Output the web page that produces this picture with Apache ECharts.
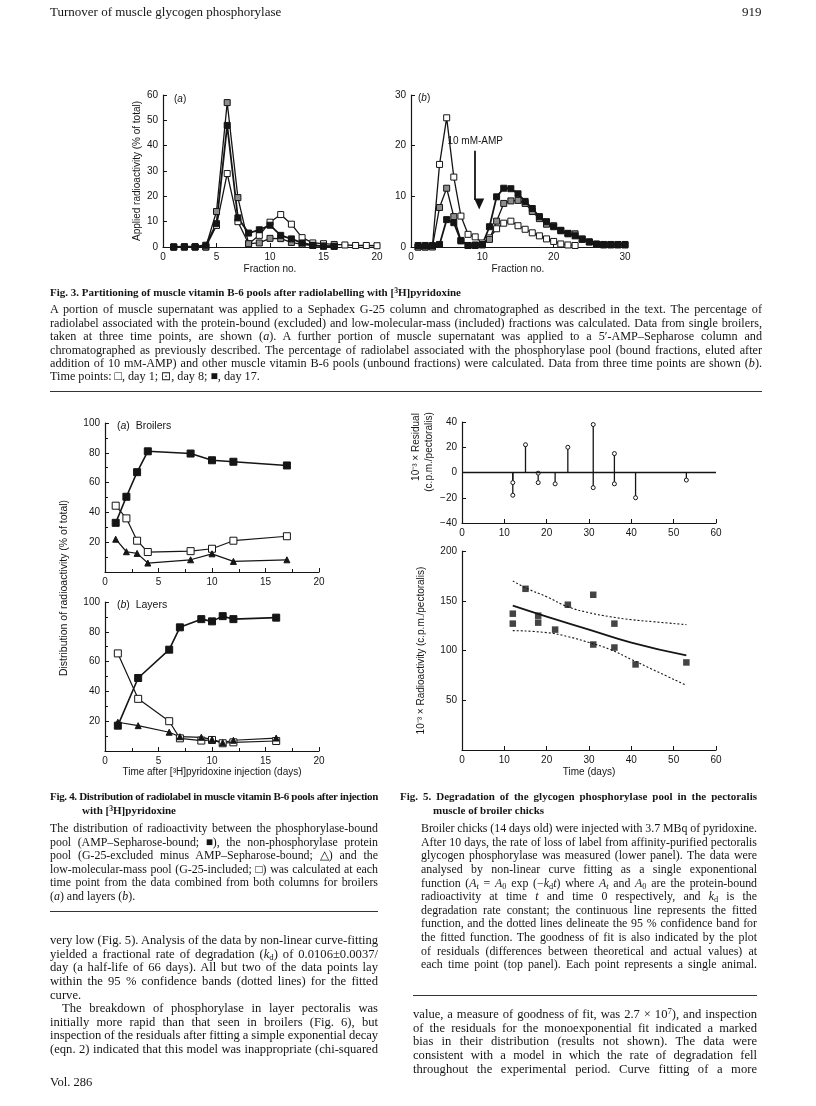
<!DOCTYPE html>
<html><head><meta charset="utf-8">
<script src="https://cdn.jsdelivr.net/npm/echarts@6/dist/echarts.min.js"></script>
<style>
body{margin:0;background:#fff;}
#page{position:relative;width:816px;height:1106px;overflow:hidden;background:#fff;}
#chart{position:absolute;left:0;top:0;width:816px;height:1106px;}
.t{position:absolute;font-family:"Liberation Serif","Times New Roman",serif;color:#151515;white-space:nowrap;}
.t sub{font-size:0.7em;vertical-align:-0.25em;line-height:0;}
.t sup{font-size:0.7em;vertical-align:0.45em;line-height:0;}
.rule{position:absolute;height:0;border-top:1px solid #333;}
</style></head>
<body><div id="page"><div id="chart"></div></div>
<script>
// ---------------- DATA ----------------
// Fig. 3(a): Sephadex G-25, % of applied radioactivity per fraction
const frac3a   = [1,2,3,4,5,6,7,8,9,10,11,12,13,14,15,16,17,18,19,20];
const day1_3a  = [0,0,0,0,8.5,29,10,1.3,4.6,9.8,12.8,9,3.7,1.6,1.3,1.0,0.8,0.6,0.6,0.5];
const day8_3a  = [0,0,0,0,14,57,19.5,1.3,1.6,3.4,3.3,1.8,1.0,0.6,0.4,0.3];
const day17_3a = [0,0.1,0.1,0.7,9.2,48,11.5,5.5,6.8,8.6,4.6,3.2,1.6,0.7,0.3,0.3];
// Fig. 3(b): 5'-AMP-Sepharose
const frac3b   = [1,2,3,4,5,6,7,8,9,10,11,12,13,14,15,16,17,18,19,20,21,22,23,24,25,26,27,28,29,30];
const day1_3b  = [0,0,0.1,16.3,25.5,13.8,6.1,2.5,2.0,0.8,1.8,3.6,4.7,5.1,4.2,3.5,2.8,2.2,1.6,1.1,0.6,0.4,0.3];
const day8_3b  = [0,0,0,7.8,11.6,6.0,1.3,0.3,0.3,0.4,1.5,5.1,8.6,9.1,9.2,8.6,7.0,5.6,4.5,4.2,3.2,2.6,2.6,1.6,1.0,0.5,0.4,0.4,0.4,0.4];
const day17_3b = [0.3,0.3,0.3,0.5,5.4,4.8,1.2,0.3,0.4,0.5,4.0,9.9,11.6,11.5,10.5,9.0,7.6,6.0,5.0,4.0,3.3,2.7,2.2,1.5,1.0,0.6,0.5,0.5,0.5,0.5];
const ampArrow = {x:9, top:19, tip:9.3, label:'10 mM-AMP'};
// Fig. 4(a) broilers
const days4a    = [1,2,3,4,8,10,12,17];
const bound4a   = [33,50.5,67,81,79.5,75,74,71.5];
const protein4a = [22,13.6,12.5,6,8.2,12.2,7.1,8.2];
const lowmm4a   = [44.5,36,21,13.4,14,15.6,21,24];
// Fig. 4(b) layers
const days4b    = [1.2,3.1,6,7,9,10,11,12,16];
const bound4b   = [17,49,68,83,88.5,87,90.5,88.5,89.5];
const protein4b = [19.3,17,12.6,9.6,9.2,7.8,5.6,7.2,8.7];
const lowmm4b   = [65.5,35,20,8.5,7,7.4,5.2,5.8,6.7];
// Fig. 5 residuals (top) and observations (bottom)
const obsDays  = [12,12,15,18,18,22,25,31,31,36,36,41,53];
const resVals  = [-8,-18,22,-0.5,-8,-9,20,38,-12,15,-9,-20,-6];
const obsVals  = [137,127,162,135,128,121,146,156,106,127,103,86,88];
const fitDays  = [12,20,30,40,53];
const fitVals  = [145,134,121,108,95];
const upDays   = [12,15,20,25,30,35,40,45,53];
const upVals   = [170,163,154,144,138,134,131,129,126];
const loDays   = [12,20,25,30,35,40,45,53];
const loVals   = [120,118,114,108,101,91,81,65];
// tick labels
const ticks3a = {x:[0,20,5], y:[0,60,10]};
const ticks3b = {x:[0,30,10], y:[0,30,10]};
const ticks4  = {x:[0,20,5], y:[0,100,20]};
const ticks5t = {x:[0,60,10], y:[-40,40,20]};
const ticks5b = {x:[0,60,10], y:[0,200,50]};

// ---------------- CHART ----------------
const zip = (xs, ys) => ys.map((y,i)=>[xs[i], y]);
const INK = '#151515';
const SANS = '"Liberation Sans", Arial, sans-serif';
const LBL = {color:INK, fontSize:10, fontFamily:SANS};

function axis(gi, t, o = {}) {
  const a = {
    type:'value', gridIndex:gi, min:t[0], max:t[1], interval:t[2],
    axisLine:{show:true, onZero:false, lineStyle:{color:INK, width:1.2}},
    axisTick:{show:true, inside:true, length:4, lineStyle:{color:INK, width:1}},
    axisLabel:Object.assign({margin:5}, LBL, o.label || {}),
    splitLine:{show:false},
    nameTextStyle:{color:INK, fontSize:10, fontFamily:SANS}
  };
  if (o.minor) a.minorTick = {show:true, splitNumber:2, length:3, lineStyle:{color:INK, width:1}};
  ['name','nameLocation','nameGap'].forEach(k => { if (o[k] !== undefined) a[k] = o[k]; });
  return a;
}
const hide0 = v => (v === 0 ? '' : v);
const minus = v => (v < 0 ? '\u2212' + Math.abs(v) : String(v));

const OPEN = {color:'#fff', borderColor:INK, borderWidth:1};
const DOT  = {color:'#8d8d8d', borderColor:INK, borderWidth:1};
const FILL = {color:INK, borderColor:INK, borderWidth:1};
function lineS(xi, data, item, sym, size, w, extra) {
  return Object.assign({
    type:'line', xAxisIndex:xi, yAxisIndex:xi, data, symbol:sym, symbolSize:size,
    showAllSymbol:true, itemStyle:item, lineStyle:{color:INK, width:w}, silent:true, z:3
  }, extra || {});
}

const option = {
  animation:false,
  grid:[
    {left:163, top:95,  width:214, height:152},
    {left:411, top:95,  width:214, height:152},
    {left:105, top:423, width:214, height:149},
    {left:105, top:602, width:214, height:149},
    {left:462, top:422, width:254, height:101},
    {left:462, top:551, width:254, height:199}
  ],
  xAxis:[
    axis(0, ticks3a.x, {name:'Fraction no.', nameLocation:'middle', nameGap:17}),
    axis(1, ticks3b.x, {name:'Fraction no.', nameLocation:'middle', nameGap:17}),
    axis(2, ticks4.x, {minor:true}),
    axis(3, ticks4.x, {minor:true, name:'Time after [\u00b3H]pyridoxine injection (days)', nameLocation:'middle', nameGap:16}),
    axis(4, ticks5t.x),
    axis(5, ticks5b.x, {name:'Time (days)', nameLocation:'middle', nameGap:17})
  ],
  yAxis:[
    axis(0, ticks3a.y, {name:'Applied radioactivity (% of total)', nameLocation:'middle', nameGap:21}),
    axis(1, ticks3b.y),
    axis(2, ticks4.y, {minor:true, label:{formatter:hide0}}),
    axis(3, ticks4.y, {minor:true, label:{formatter:hide0}}),
    axis(4, ticks5t.y, {label:{formatter:minus}}),
    axis(5, ticks5b.y, {label:{formatter:hide0}, name:'10\u207b\u00b3 \u00d7 Radioactivity (c.p.m./pectoralis)', nameLocation:'middle', nameGap:36})
  ],
  graphic:[
    {type:'text', left:174, top:94, style:{text:'({i|a})', fill:INK, font:'10px '+SANS, rich:{i:{fontStyle:'italic', fontSize:10, fontFamily:SANS, fill:INK}}}},
    {type:'text', left:418, top:93, style:{text:'({i|b})', fill:INK, font:'10px '+SANS, rich:{i:{fontStyle:'italic', fontSize:10, fontFamily:SANS, fill:INK}}}},
    {type:'text', left:117, top:421, style:{text:'({i|a})  Broilers', fill:INK, font:'10.5px '+SANS, rich:{i:{fontStyle:'italic', fontSize:10.5, fontFamily:SANS, fill:INK}}}},
    {type:'text', left:117, top:600, style:{text:'({i|b})  Layers', fill:INK, font:'10.5px '+SANS, rich:{i:{fontStyle:'italic', fontSize:10.5, fontFamily:SANS, fill:INK}}}},
    {type:'text', x:64, y:588, rotation:Math.PI/2, style:{text:'Distribution of radioactivity (% of total)', fill:INK, font:'10.5px '+SANS, align:'center', verticalAlign:'middle'}},
    {type:'text', x:416, y:447, rotation:Math.PI/2, style:{text:'10\u207b\u00b3 \u00d7 Residual', fill:INK, font:'10px '+SANS, align:'center', verticalAlign:'middle'}},
    {type:'text', x:429, y:452, rotation:Math.PI/2, style:{text:'(c.p.m./pectoralis)', fill:INK, font:'10px '+SANS, align:'center', verticalAlign:'middle'}}
  ],
  series:[
    // Fig 3a
    lineS(0, zip(frac3a, day1_3a), OPEN, 'rect', 6, 1.3),
    lineS(0, zip(frac3a, day8_3a), DOT, 'rect', 6, 1.3),
    lineS(0, zip(frac3a, day17_3a), FILL, 'rect', 6, 1.8),
    // Fig 3b
    lineS(1, zip(frac3b, day1_3b), OPEN, 'rect', 6, 1.3, {
      markLine:{silent:true, symbol:['none','triangle'], symbolSize:[10,11], symbolRotate:180, precision:1,
        symbolOffset:[0,-4],
        lineStyle:{type:'solid', color:INK, width:1.8},
        itemStyle:{color:INK},
        label:{show:true, position:'start', formatter:ampArrow.label, color:INK, fontSize:10, fontFamily:SANS, distance:4},
        data:[[{coord:[ampArrow.x, ampArrow.top]}, {coord:[ampArrow.x, ampArrow.tip]}]]}
    }),
    lineS(1, zip(frac3b, day8_3b), DOT, 'rect', 6, 1.3),
    lineS(1, zip(frac3b, day17_3b), FILL, 'rect', 6, 1.8),
    // Fig 4a
    lineS(2, zip(days4a, bound4a), FILL, 'rect', 7, 1.6),
    lineS(2, zip(days4a, lowmm4a), OPEN, 'rect', 7, 1.2),
    lineS(2, zip(days4a, protein4a), FILL, 'triangle', 6, 1.2),
    // Fig 4b
    lineS(3, zip(days4b, bound4b), FILL, 'rect', 7, 1.6),
    lineS(3, zip(days4b, lowmm4b), OPEN, 'rect', 7, 1.2),
    lineS(3, zip(days4b, protein4b), FILL, 'triangle', 6, 1.2),
    // Fig 5 top: residual stems
    {type:'custom', xAxisIndex:4, yAxisIndex:4, data:zip(obsDays, resVals), silent:true, z:3,
      renderItem(params, api){
        const x = api.value(0), v = api.value(1);
        const p0 = api.coord([x,0]), p1 = api.coord([x,v]);
        return {type:'group', children:[
          {type:'line', shape:{x1:p0[0], y1:p0[1], x2:p1[0], y2:p1[1]}, style:{stroke:INK, lineWidth:1.3}},
          {type:'circle', z2:2, shape:{cx:p1[0], cy:p1[1], r:2}, style:{fill:'#fff', stroke:INK, lineWidth:1}}
        ]};
      },
      markLine:{silent:true, symbol:'none', label:{show:false}, lineStyle:{type:'solid', color:INK, width:1.3}, data:[{yAxis:0}]}
    },
    // Fig 5 bottom
    {type:'scatter', xAxisIndex:5, yAxisIndex:5, data:zip(obsDays, obsVals), symbol:'rect', symbolSize:6.5, itemStyle:{color:INK}, silent:true, z:4},
    {type:'line', xAxisIndex:5, yAxisIndex:5, data:zip(fitDays, fitVals), smooth:true, showSymbol:false, lineStyle:{color:INK, width:1.8}, silent:true},
    {type:'line', xAxisIndex:5, yAxisIndex:5, data:zip(upDays, upVals), smooth:true, showSymbol:false, lineStyle:{color:INK, width:1.1, type:[2,2]}, silent:true},
    {type:'line', xAxisIndex:5, yAxisIndex:5, data:zip(loDays, loVals), smooth:true, showSymbol:false, lineStyle:{color:INK, width:1.1, type:[2,2]}, silent:true}
  ]
};
const chart = echarts.init(document.getElementById('chart'), null, {renderer:'canvas'});
chart.setOption(option);

// ---------------- PAGE TEXT ----------------
const page = document.getElementById('page');
function block(x, y, w, lh, fs, lines, opt = {}) {
  lines.forEach((ln, i) => {
    const o = typeof ln === 'string' ? {t:ln, j:true} : ln;
    const d = document.createElement('div');
    d.className = 't';
    d.innerHTML = o.t;
    const ind = o.ind || 0;
    d.style.left = (x + ind) + 'px';
    d.style.top = (y + i * lh - lh / 2) + 'px';
    d.style.fontSize = fs + 'px';
    d.style.lineHeight = lh + 'px';
    if (opt.bold) d.style.fontWeight = 'bold';
    page.appendChild(d);
    const target = w - ind;
    let nat = d.getBoundingClientRect().width;
    if (nat > target) {
      const chars = d.textContent.length;
      const ls = (target - nat) / chars;
      if (ls > -0.5) {
        d.style.letterSpacing = ls + 'px';
      } else {
        d.style.fontSize = (fs * target / nat) + 'px';
      }
      nat = d.getBoundingClientRect().width;
    }
    if (o.j) {
      const n = (d.textContent.match(/ /g) || []).length;
      if (n) d.style.wordSpacing = ((target - nat) / n) + 'px';
    }
  });
}
function rule(x, y, w) {
  const r = document.createElement('div');
  r.className = 'rule'; r.style.left = x + 'px'; r.style.top = y + 'px'; r.style.width = w + 'px';
  page.appendChild(r);
}
block(50, 12, 300, 14, 13, [{t:'Turnover of muscle glycogen phosphorylase'}]);
block(742, 12, 30, 14, 13, [{t:'919'}]);
block(50, 292, 700, 13, 11, [{t:'Fig. 3. Partitioning of muscle vitamin B-6 pools after radiolabelling with [<sup>3</sup>H]pyridoxine'}], {bold:true});
block(50, 310, 712, 13.4, 12.2, [
  'A portion of muscle supernatant was applied to a Sephadex G-25 column and chromatographed as described in the text. The percentage of',
  'radiolabel associated with the protein-bound (excluded) and low-molecular-mass (included) fractions was calculated. Data from single broilers,',
  'taken at three time points, are shown (<i>a</i>). A further portion of muscle supernatant was applied to a 5′-AMP–Sepharose column and',
  'chromatographed as previously described. The percentage of radiolabel associated with the phosphorylase pool (bound fractions, eluted after',
  'addition of 10 m<span style="font-size:0.8em">M</span>-AMP) and other muscle vitamin B-6 pools (unbound fractions) were calculated. Data from three time points are shown (<i>b</i>).',
  {t:'Time points: □, day 1; ⊡, day 8; ■, day 17.'}
]);
rule(50, 391, 712);

block(50, 797, 328, 13.4, 11, [
  'Fig. 4. Distribution of radiolabel in muscle vitamin B-6 pools after injection',
  {t:'with [<sup>3</sup>H]pyridoxine', ind:32}
], {bold:true});
block(50, 829, 328, 13.5, 11.9, [
  'The distribution of radioactivity between the phosphorylase-bound',
  'pool (AMP–Sepharose-bound; ■), the non-phosphorylase protein',
  'pool (G-25-excluded minus AMP–Sepharose-bound; △) and the',
  'low-molecular-mass pool (G-25-included; □) was calculated at each',
  'time point from the data combined from both columns for broilers',
  {t:'(<i>a</i>) and layers (<i>b</i>).'}
]);
rule(50, 911, 328);

block(400, 797, 357, 13.4, 11, [
  'Fig. 5. Degradation of the glycogen phosphorylase pool in the pectoralis',
  {t:'muscle of broiler chicks', ind:33}
], {bold:true});
block(421, 829, 336, 13.6, 11.9, [
  'Broiler chicks (14 days old) were injected with 3.7 MBq of pyridoxine.',
  'After 10 days, the rate of loss of label from affinity-purified pectoralis',
  'glycogen phosphorylase was measured (lower panel). The data were',
  'analysed by non-linear curve fitting as a single exponentional',
  'function (<i>A</i><sub><i>t</i></sub> = <i>A</i><sub>0</sub> exp (−<i>k</i><sub>d</sub><i>t</i>) where <i>A</i><sub><i>t</i></sub> and <i>A</i><sub>0</sub> are the protein-bound',
  'radioactivity at time <i>t</i> and time 0 respectively, and <i>k</i><sub>d</sub> is the',
  'degradation rate constant; the continuous line represents the fitted',
  'function, and the dotted lines delineate the 95 % confidence band for',
  'the fitted function. The goodness of fit is also indicated by the plot',
  'of residuals (differences between theoretical and actual values) at',
  'each time point (top panel). Each point represents a single animal.'
]);
rule(413, 995, 344);

block(50, 941, 328, 13.6, 12.6, [
  'very low (Fig. 5). Analysis of the data by non-linear curve-fitting',
  'yielded a fractional rate of degradation (<i>k</i><sub>d</sub>) of 0.0106±0.0037/',
  'day (a half-life of 66 days). All but two of the data points lay',
  'within the 95 % confidence bands (dotted lines) for the fitted',
  {t:'curve.'},
  {t:'The breakdown of phosphorylase in layer pectoralis was', ind:12, j:true},
  'initially more rapid than that seen in broilers (Fig. 6), but',
  'inspection of the residuals after fitting a simple exponential decay',
  '(eqn. 2) indicated that this model was inappropriate (chi-squared'
]);
block(413, 1015, 344, 13.6, 12.6, [
  'value, a measure of goodness of fit, was 2.7 × 10<sup>7</sup>), and inspection',
  'of the residuals for the monoexponential fit indicated a marked',
  'bias in their distribution (results not shown). The data were',
  'consistent with a model in which the rate of degradation fell',
  'throughout the experimental period. Curve fitting of a more'
]);
block(50, 1082, 100, 14, 12.5, [{t:'Vol. 286'}]);
</script>
</body></html>
